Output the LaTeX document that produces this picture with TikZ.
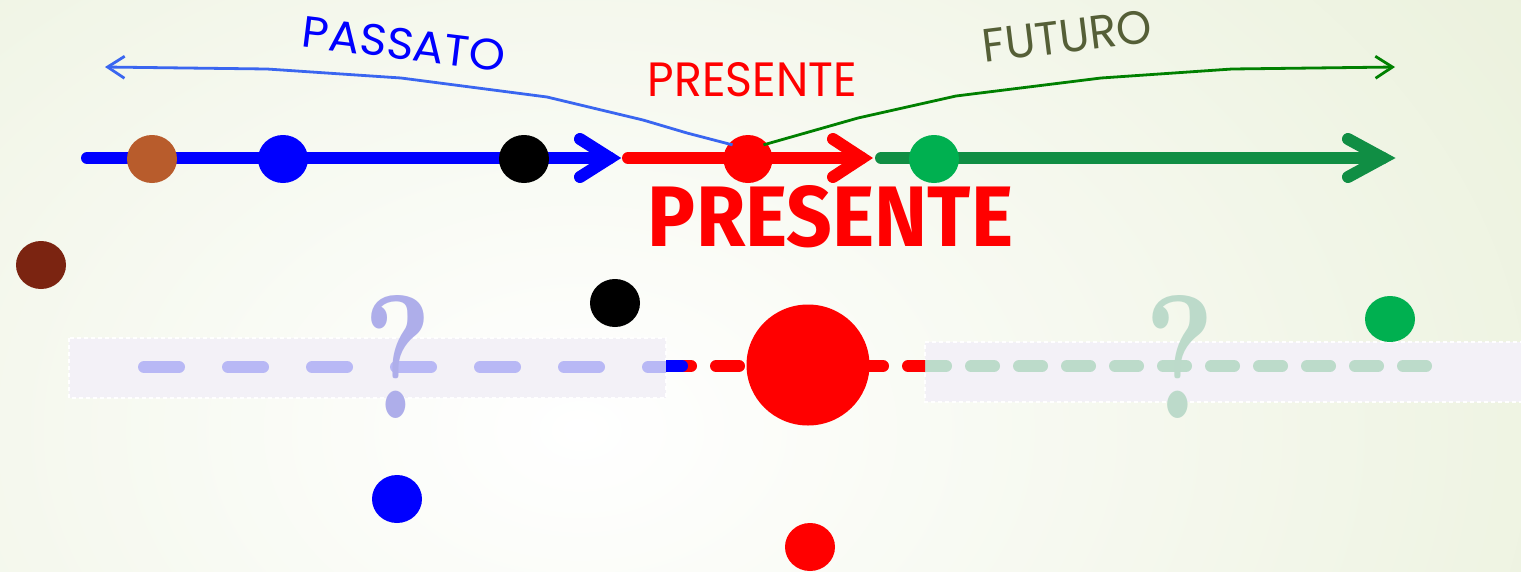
\documentclass[tikz,border=0pt]{standalone}
\usepackage{fontspec}
\usetikzlibrary{shapes.geometric,arrows.meta}
\newfontfamily\gothic{Poppins}
\newfontfamily\boldsans{Fira Sans}
\definecolor{bgout}{RGB}{222,232,198}
\definecolor{pureblue}{RGB}{0,0,255}
\definecolor{purered}{RGB}{255,0,0}
\definecolor{thinblue}{RGB}{58,102,240}
\definecolor{futgreen}{RGB}{0,128,0}
\definecolor{linegreen}{RGB}{16,142,68}
\definecolor{dotgreen}{RGB}{0,176,80}
\definecolor{dotbrown}{RGB}{184,92,44}
\definecolor{darkbrown}{RGB}{123,36,17}
\definecolor{olivetext}{RGB}{85,95,55}
\definecolor{lav}{RGB}{184,184,245}
\definecolor{lavq}{RGB}{174,174,234}
\definecolor{palegreen}{RGB}{188,219,202}
\definecolor{paleq}{RGB}{188,218,202}
\definecolor{rectfill}{RGB}{243,241,247}
\tikzset{
  dot/.style={ellipse, inner sep=0pt, minimum width=50pt, minimum height=48pt, fill=#1},
  timeline/.style={line width=12pt, line cap=round},
  chevron/.style={line width=12pt, line cap=round, line join=miter},
  thinarrow/.style={line width=2.8pt, -{Straight Barb[length=17pt,width=22pt]}},
  fadedbox/.style={fill=rectfill, draw=white, line width=1.5pt, dash pattern=on 4pt off 3pt},
  widedash/.style={line width=12pt, line cap=round, dash pattern=on 35pt off 49pt},
  shortdash/.style={line width=12pt, line cap=round, dash pattern=on 23pt off 25pt},
  lbl/.style={inner sep=0pt}
}
\begin{document}
\begin{tikzpicture}[x=1pt,y=-1pt]
\useasboundingbox (0,0) rectangle (1521,571);
% background
\fill[bgout] (0,0) rectangle (1521,571);
\begin{scope}
\clip (0,0) rectangle (1521,571);
\shade[inner color=white, outer color=bgout] (580,430) ellipse (1900 and 1350);
\end{scope}

% faded boxes
\path[fadedbox] (69,338) rectangle (666,398);
\path[fadedbox] (925,342) -- (1530,342) -- (1530,402) -- (925,402) -- cycle;

% pale dashed lines
\begin{scope}
\clip (69,330) rectangle (666,410);
\coordinate (lavS) at (144,367);
\coordinate (lavE) at (700,367);
\draw[widedash, lav] (lavS) -- (lavE);
\end{scope}
\begin{scope}
\clip (925,330) rectangle (1521,410);
\coordinate (grS) at (923,366);
\coordinate (grE) at (1426,366);
\draw[shortdash, palegreen] (grS) -- (grE);
\end{scope}

% present dashes
\begin{scope}
\clip (666,340) rectangle (925,400);
\coordinate (rdS) at (668,366);
\coordinate (rdE) at (931,366);
\draw[shortdash, purered] (rdS) -- (rdE);
\coordinate (blS) at (660,366);
\coordinate (blE) at (682,366);
\draw[line width=12pt, line cap=round, pureblue] (blS) -- (blE);
\end{scope}
\node[ellipse, inner sep=0pt, minimum width=123pt, minimum height=121pt, fill=purered] (now) at (808,365) {};

% question marks
\node[lbl, text=lavq] (qpast) at (398,356.5) {\resizebox{69pt}{123pt}{\bfseries ?}};
\node[lbl, text=paleq] (qfut) at (1180,356.5) {\resizebox{71pt}{123pt}{\bfseries ?}};

% scattered dots
\node[dot=darkbrown] (sd1) at (41,265) {};
\node[dot=black] (sd2) at (615,303) {};
\node[dot=dotgreen, minimum height=46pt] (sd3) at (1390,319) {};
\node[dot=pureblue] (sd4) at (397,499) {};
\node[dot=purered] (sd5) at (810,547) {};

% time line
\coordinate (gS) at (881,158); \coordinate (gV) at (1383,158);
\coordinate (gA) at (1348,139); \coordinate (gB) at (1348,177);
\draw[timeline, linegreen] (gS) -- (gV);
\draw[chevron, linegreen] (gA) -- (gV) -- (gB);
\coordinate (rS) at (628,158); \coordinate (rV) at (862,158);
\coordinate (rA) at (833,139); \coordinate (rB) at (833,177);
\draw[timeline, purered] (rS) -- (rV);
\draw[chevron, purered] (rA) -- (rV) -- (rB);
\coordinate (bS) at (87,158); \coordinate (bV) at (610,158);
\coordinate (bA) at (580,139); \coordinate (bB) at (580,177);
\draw[timeline, pureblue] (bS) -- (bV);
\draw[chevron, pureblue] (bA) -- (bV) -- (bB);

\node[dot=dotbrown] (t1) at (152,159) {};
\node[dot=pureblue] (t2) at (283,159) {};
\node[dot=black] (t3) at (524,159) {};
\node[dot=purered, minimum width=49pt] (t4) at (748,159) {};
\node[dot=dotgreen] (t5) at (934,159) {};

% thin arrows
\coordinate (pastEnd) at (105,67);
\coordinate (futEnd) at (1395,67);
\draw[thinarrow, thinblue] (t4.north west) ++(2,3) -- (687,133) -- (643,120) -- (547,97) -- (401,78) -- (267,69) -- (pastEnd);
\draw[thinarrow, futgreen] (t4.north east) ++(-2,3) -- (858,118) -- (956,96) -- (1101,78) -- (1232,69) -- (futEnd);

% labels
\node[lbl, rotate=-7, text=pureblue] (passato) at (404,44) {\resizebox{204pt}{31pt}{\gothic PASSATO}};
\node[lbl, text=purered] (presente) at (752.5,80) {\resizebox{209pt}{34pt}{\gothic PRESENTE}};
\node[lbl, rotate=7, text=olivetext] (futuro) at (1067,36) {\resizebox{170pt}{33pt}{\gothic FUTURO}};
\node[lbl, text=purered] (bigpres) at (830.5,217) {\resizebox{365pt}{61pt}{\boldsans\bfseries PRESENTE}};
\end{tikzpicture}
\end{document}
